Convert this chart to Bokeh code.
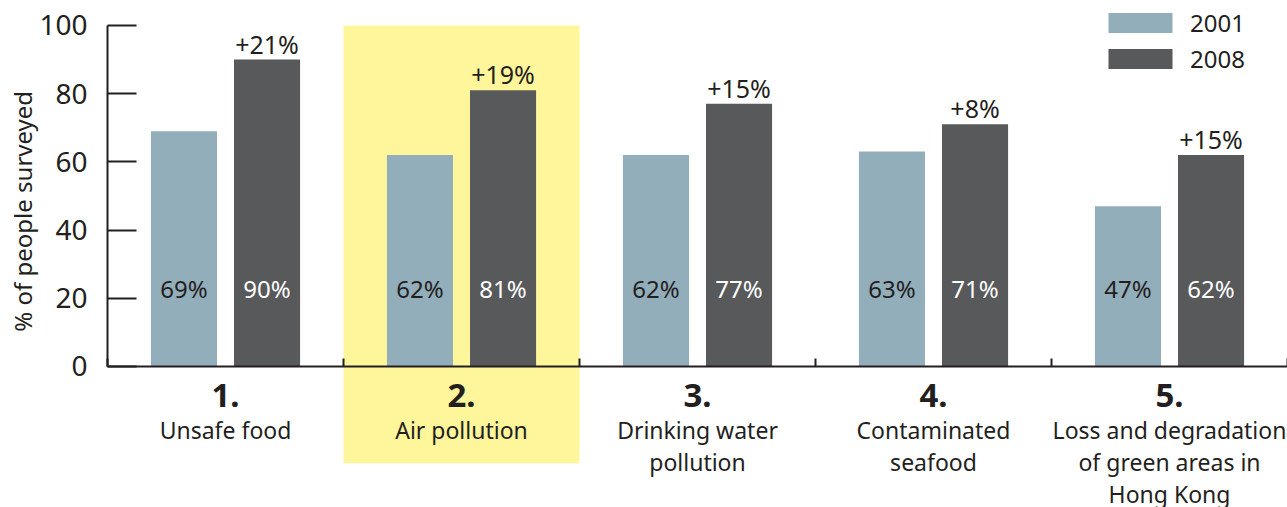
import numpy as np
from bokeh.plotting import figure
from bokeh.models import (ColumnDataSource, LinearAxis, FixedTicker, Range1d,
                          Legend, LegendItem, Label)
from bokeh.core.properties import value
from bokeh.embed import file_html
from bokeh.resources import INLINE

# --- data -------------------------------------------------------------
ranks = ["1.", "2.", "3.", "4.", "5."]
concerns = ["Unsafe food", "Air pollution", "Drinking water\npollution",
            "Contaminated\nseafood", "Loss and degradation\nof green areas in\nHong Kong"]
pct_2001 = [69, 62, 62, 63, 47]
pct_2008 = [90, 81, 77, 71, 62]
y_ticks = [0, 20, 40, 60, 80, 100]
highlighted = 1  # "Air pollution"

FONT = "Noto Sans"
INK = "#231F20"
C2001 = "#93AEBB"
C2008 = "#58595B"
YELLOW = "#FFF59B"

n = len(ranks)
xc = np.arange(n) + 0.5
off, bw = 0.176, 0.28

src = ColumnDataSource(dict(
    x=xc,
    x01=xc - off,
    x08=xc + off,
    v01=pct_2001,
    v08=pct_2008,
    t01=[f"{v}%" for v in pct_2001],
    t08=[f"{v}%" for v in pct_2008],
    delta=[f"+{b - a}%" for a, b in zip(pct_2001, pct_2008)],
    rank=ranks,
    name=concerns,
))

# the plotting frame covers the whole canvas; axes sit at fixed data positions
p = figure(width=1287, height=507, output_backend="svg", toolbar_location=None,
           x_range=Range1d(-0.4534, n), y_range=Range1d(-41.35, 107.3),
           min_border=0, x_axis_location=None, y_axis_location=None)
p.outline_line_color = None
p.grid.visible = False
p.background_fill_color = "white"

# highlight band behind the second concern
p.quad(left=[highlighted], right=[highlighted + 1], bottom=[-28.4], top=[100],
       fill_color=YELLOW, line_color=None)

r01 = p.vbar(x="x01", top="v01", width=bw, source=src, fill_color=C2001, line_color=None)
r08 = p.vbar(x="x08", top="v08", width=bw, source=src, fill_color=C2008, line_color=None)

txt = dict(text_font=value(FONT), text_align="center", source=src)
p.text(x="x01", y=23, text="t01", text_font_size="24px", text_baseline="middle",
       text_color=INK, **txt)
p.text(x="x08", y=23, text="t08", text_font_size="24px", text_baseline="middle",
       text_color="white", **txt)
p.text(x="x08", y="v08", text="delta", text_font_size="25px", text_baseline="middle",
       y_offset=-16, text_color=INK, **txt)

p.text(x="x", y=-8.5, text="rank", text_font_size="33px", text_font_style="bold",
       text_baseline="middle", text_color=INK, **txt)
p.text(x="x", y=-14.0, text="name", text_font_size="23px", text_baseline="top",
       text_line_height=0.99, text_color=INK, **txt)

# y axis
yax = LinearAxis(fixed_location=0, bounds=(0, 100), ticker=FixedTicker(ticks=y_ticks))
yax.axis_line_width = 2
yax.axis_line_color = INK
yax.major_tick_line_width = 2
yax.major_tick_line_color = INK
yax.major_tick_in = 29
yax.major_tick_out = 0
yax.minor_tick_line_color = None
yax.major_label_standoff = 20
yax.major_label_text_font = FONT
yax.major_label_text_font_size = "28px"
yax.major_label_text_color = INK
p.add_layout(yax, "left")

p.add_layout(Label(x=-0.36, y=45.5, text="% of people surveyed", angle=np.pi / 2,
                   text_font=FONT, text_font_size="24px", text_color=INK,
                   text_align="center", text_baseline="middle"))

# baseline with short ticks between concerns
bounds_ticks = list(range(n + 1))
xax = LinearAxis(fixed_location=0, bounds=(0, n), ticker=FixedTicker(ticks=bounds_ticks),
                 major_label_overrides={t: "" for t in bounds_ticks})
xax.axis_line_width = 2
xax.axis_line_color = INK
xax.major_tick_line_width = 2
xax.major_tick_line_color = INK
xax.major_tick_in = 8
xax.major_tick_out = 0
xax.minor_tick_line_color = None
p.add_layout(xax, "below")

legend = Legend(items=[LegendItem(label="2001", renderers=[r01]),
                       LegendItem(label="2008", renderers=[r08])],
                location=(1100, 432), orientation="vertical",
                glyph_width=80, glyph_height=25, label_height=25,
                label_standoff=10, spacing=3, padding=0, margin=0,
                border_line_color=None, background_fill_alpha=0,
                label_text_font=FONT, label_text_font_size="24px",
                label_text_color=INK)
p.add_layout(legend, "center")

open("out.html", "w").write(file_html(p, INLINE))
